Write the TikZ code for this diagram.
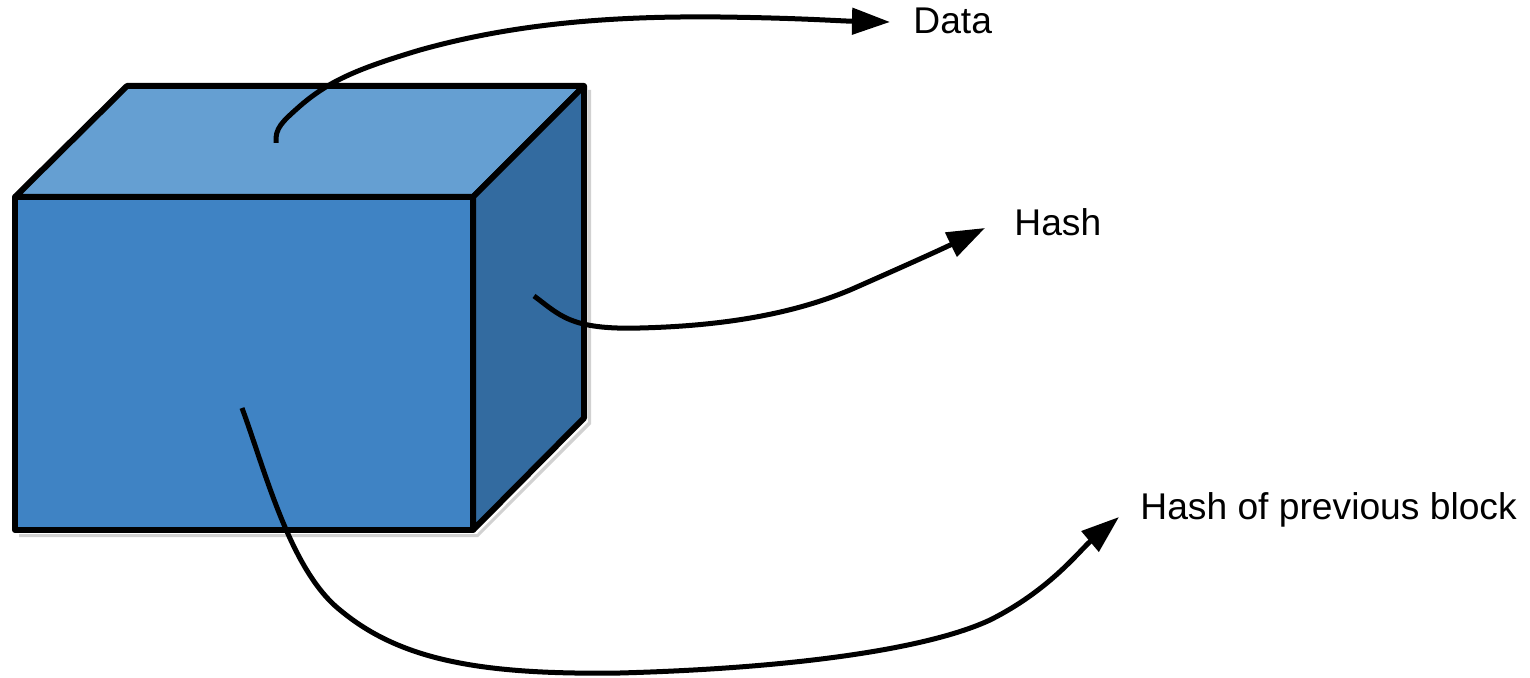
\documentclass[tikz,border=0pt]{standalone}
\usepackage{fontspec}
\setmainfont{Liberation Sans}
\usetikzlibrary{arrows.meta}
\definecolor{cubefront}{RGB}{63,131,196}
\definecolor{cubetop}{RGB}{101,159,210}
\definecolor{cubeside}{RGB}{51,107,160}
\tikzset{
  face/.style={draw=black,line width=3pt,line join=round},
  conn/.style={draw=black,line width=2.5pt,-{Triangle[length=19pt,width=13pt]}},
  lbl/.style={font=\fontsize{18.6pt}{21pt}\selectfont,inner sep=0pt,anchor=base west}
}
\begin{document}
\begin{tikzpicture}[x=0.5pt,y=-0.5pt]
\useasboundingbox (0,0) rectangle (1530,678);
% cube corners
\coordinate (ftl) at (15,197);
\coordinate (ftr) at (473,197);
\coordinate (fbl) at (15,530);
\coordinate (fbr) at (473,530);
\coordinate (btl) at (127,86);
\coordinate (btr) at (584,86);
\coordinate (bbr) at (584,418);
\fill[black!18] (19,534) -- (477,534) -- (588,422) -- (588,90) -- (591,90) -- (591,424) -- (478,537) -- (19,537) -- cycle;
\filldraw[face,fill=cubetop] (ftl) -- (btl) -- (btr) -- (ftr) -- cycle;
\filldraw[face,fill=cubeside] (ftr) -- (btr) -- (bbr) -- (fbr) -- cycle;
\filldraw[face,fill=cubefront] (ftl) -- (ftr) -- (fbr) -- (fbl) -- cycle;
% labels
\node[lbl] (data) at (913,34) {Data};
\node[lbl] (hash) at (1014,236) {Hash};
\node[lbl] (prev) at (1140,519) {Hash of previous block};
% connector ends
\coordinate (s1) at (276,143);
\coordinate (s2) at (534,296);
\coordinate (s3) at (242,408);
\coordinate (e1) at (890,22);
\coordinate (e2) at (985,228);
\coordinate (e3) at (1119,517);
\draw[conn] (s1) .. controls (275,128) and (282,122) .. (300,106)
  .. controls (330,80) and (360,68) .. (420,50)
  .. controls (520,22) and (620,16) .. (720,17)
  .. controls (800,18) and (840,21) .. (e1);
\draw[conn] (s2) .. controls (560,315) and (570,330) .. (640,328)
  .. controls (720,326) and (790,315) .. (850,290)
  .. controls (900,268) and (940,250) .. (e2);
\draw[conn] (s3) .. controls (265,470) and (290,570) .. (340,610)
  .. controls (400,660) and (480,675) .. (620,673)
  .. controls (800,668) and (930,648) .. (990,620)
  .. controls (1050,590) and (1080,550) .. (e3);
\end{tikzpicture}
\end{document}
